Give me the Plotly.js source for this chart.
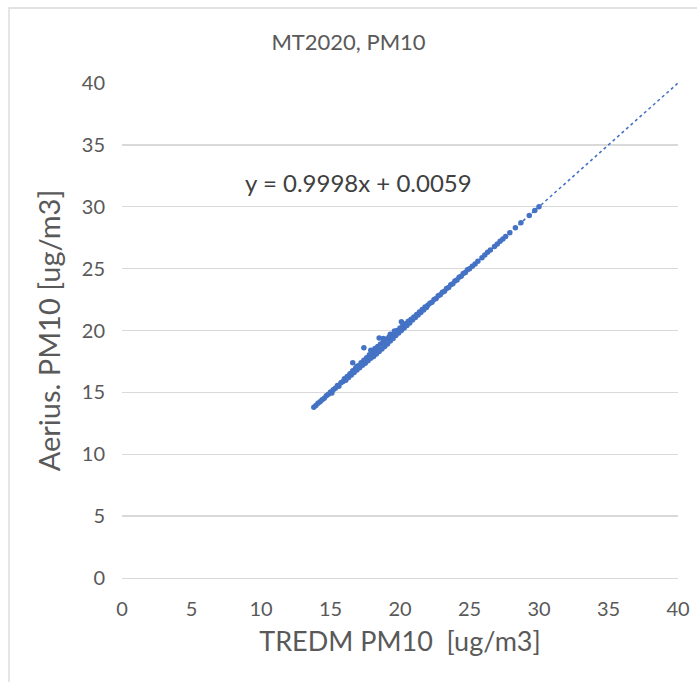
<!DOCTYPE html>
<html>
<head>
<meta charset="utf-8">
<script src="https://cdn.plot.ly/plotly-3.0.1.min.js"></script>
<style>html,body{margin:0;padding:0;background:#fff;}#chart{width:697px;height:682px;}</style>
</head>
<body>
<div id="chart"></div>
<script>
// Observed points: TREDM PM10 (x) vs Aerius PM10 (y)
const tredm = [
13.8,13.95,14.1,14.25,14.4,14.55,14.7,14.85,15.0,15.1,15.2,15.35,15.5,15.6,15.75,15.9,16.0,16.1,16.2,16.3,
16.4,16.5,16.6,16.7,16.8,16.9,17.0,17.1,17.2,17.3,17.4,17.5,17.6,17.7,17.8,17.9,18.0,18.1,18.2,18.3,
18.4,18.5,18.6,18.7,18.8,18.9,19.0,19.1,19.2,19.3,19.4,19.5,19.6,19.7,19.8,19.9,20.0,20.1,20.2,20.3,
20.4,20.5,20.6,20.7,20.8,20.9,21.0,21.1,21.2,21.3,21.4,21.5,21.6,21.7,21.8,21.9,22.0,22.15,22.3,22.45,
22.6,22.75,22.9,23.05,23.2,23.35,23.5,23.65,23.8,23.95,24.1,24.25,24.4,24.55,24.7,24.85,25.0,
17.4,16.6,18.5,20.1,17.9,18.8,19.3,16.9,18.2,19.6,
25.2,25.4,25.6,25.9,26.1,26.3,26.5,26.8,27.0,27.2,27.4,27.6,27.9,28.3,28.7,29.3,29.7,30.0
];
const aerius = [
13.8,13.93,14.12,14.24,14.41,14.53,14.72,14.84,15.03,14.95,15.22,15.33,15.55,15.5,15.78,15.87,16.1,15.98,16.28,16.2,
16.5,16.4,16.75,16.6,16.95,16.8,17.15,17.0,17.4,17.2,17.6,17.35,17.8,17.55,18.05,17.75,18.25,17.9,18.45,18.1,
18.7,18.3,18.9,18.5,19.1,18.7,19.3,18.9,19.45,19.15,19.6,19.35,19.8,19.6,20.0,19.8,20.2,20.0,20.4,20.2,
20.55,20.4,20.75,20.6,20.9,20.85,21.1,21.05,21.3,21.25,21.5,21.45,21.7,21.65,21.9,21.85,22.05,22.2,22.28,22.5,
22.58,22.8,22.88,23.1,23.18,23.4,23.48,23.7,23.78,24.0,24.08,24.3,24.38,24.6,24.68,24.9,24.98,
18.6,17.4,19.4,20.7,18.4,19.35,19.7,17.1,18.55,19.95,
25.2,25.38,25.6,25.88,26.1,26.32,26.5,26.78,27.0,27.22,27.4,27.6,27.9,28.3,28.7,29.3,29.7,30.0
];
// Linear trendline y = 0.9998x + 0.0059 (endpoints)
const trendX = [13.7, 40];
const trendY = [13.703, 39.998];
const chartTitle = 'MT2020, PM10';
const xTitle = 'TREDM PM10  [ug/m3]';
const yTitle = 'Aerius. PM10 [ug/m3]';
const eqText = 'y = 0.9998x + 0.0059';
const tickVals = [0,5,10,15,20,25,30,35,40];

const FONT = 'Lato, "Open Sans", sans-serif';
const BLUE = '#4472C4';

const data = [
  {x: trendX, y: trendY, type: 'scatter', mode: 'lines',
   line: {color: BLUE, width: 1.6, dash: 'dot'}, hoverinfo: 'skip'},
  {x: tredm, y: aerius, type: 'scatter', mode: 'markers',
   marker: {color: BLUE, size: 5.5, line: {width: 0}}}
];

const layout = {
  width: 697, height: 682,
  margin: {l: 122, r: 19, t: 83, b: 104},
  paper_bgcolor: '#fff', plot_bgcolor: '#fff',
  showlegend: false,
  font: {family: FONT, color: '#595959'},
  title: {text: chartTitle, x: 0.5, xref: 'container', xanchor: 'center',
          y: 1 - 42/682, yref: 'container', yanchor: 'middle',
          font: {family: FONT, size: 22, color: '#595959'}},
  xaxis: {range: [0, 40], tickvals: tickVals, showgrid: false, zeroline: false,
          showline: true, linecolor: '#d9d9d9', linewidth: 1.3, ticks: '',
          ticklabelstandoff: 13,
          tickfont: {family: FONT, size: 20, color: '#595959'},
          title: {text: xTitle, standoff: 12, font: {family: FONT, size: 27, color: '#595959'}},
          fixedrange: true},
  yaxis: {range: [0, 40], tickvals: tickVals, showgrid: true, gridcolor: '#d9d9d9', gridwidth: 1.3,
          zeroline: false, showline: false, ticks: '',
          ticklabelstandoff: 16,
          tickfont: {family: FONT, size: 20, color: '#595959'},
          title: {text: yTitle, standoff: 12, font: {family: FONT, size: 29, color: '#595959'}},
          fixedrange: true},
  annotations: [{text: eqText, x: 17.0, y: 32.0, xref: 'x', yref: 'y', showarrow: false,
                 xanchor: 'center', yanchor: 'middle',
                 font: {family: FONT, size: 24, color: '#404040'}}],
  shapes: [{type: 'rect', xref: 'paper', yref: 'paper',
            x0: (9 - 122) / 556, x1: (705 - 122) / 556,
            y0: (578 - 690) / 495, y1: (578 - 8) / 495,
            line: {color: '#d9d9d9', width: 1.3}, fillcolor: 'rgba(0,0,0,0)', layer: 'below'}]
};

Plotly.newPlot('chart', data, layout, {displayModeBar: false, staticPlot: true});
</script>
</body>
</html>
